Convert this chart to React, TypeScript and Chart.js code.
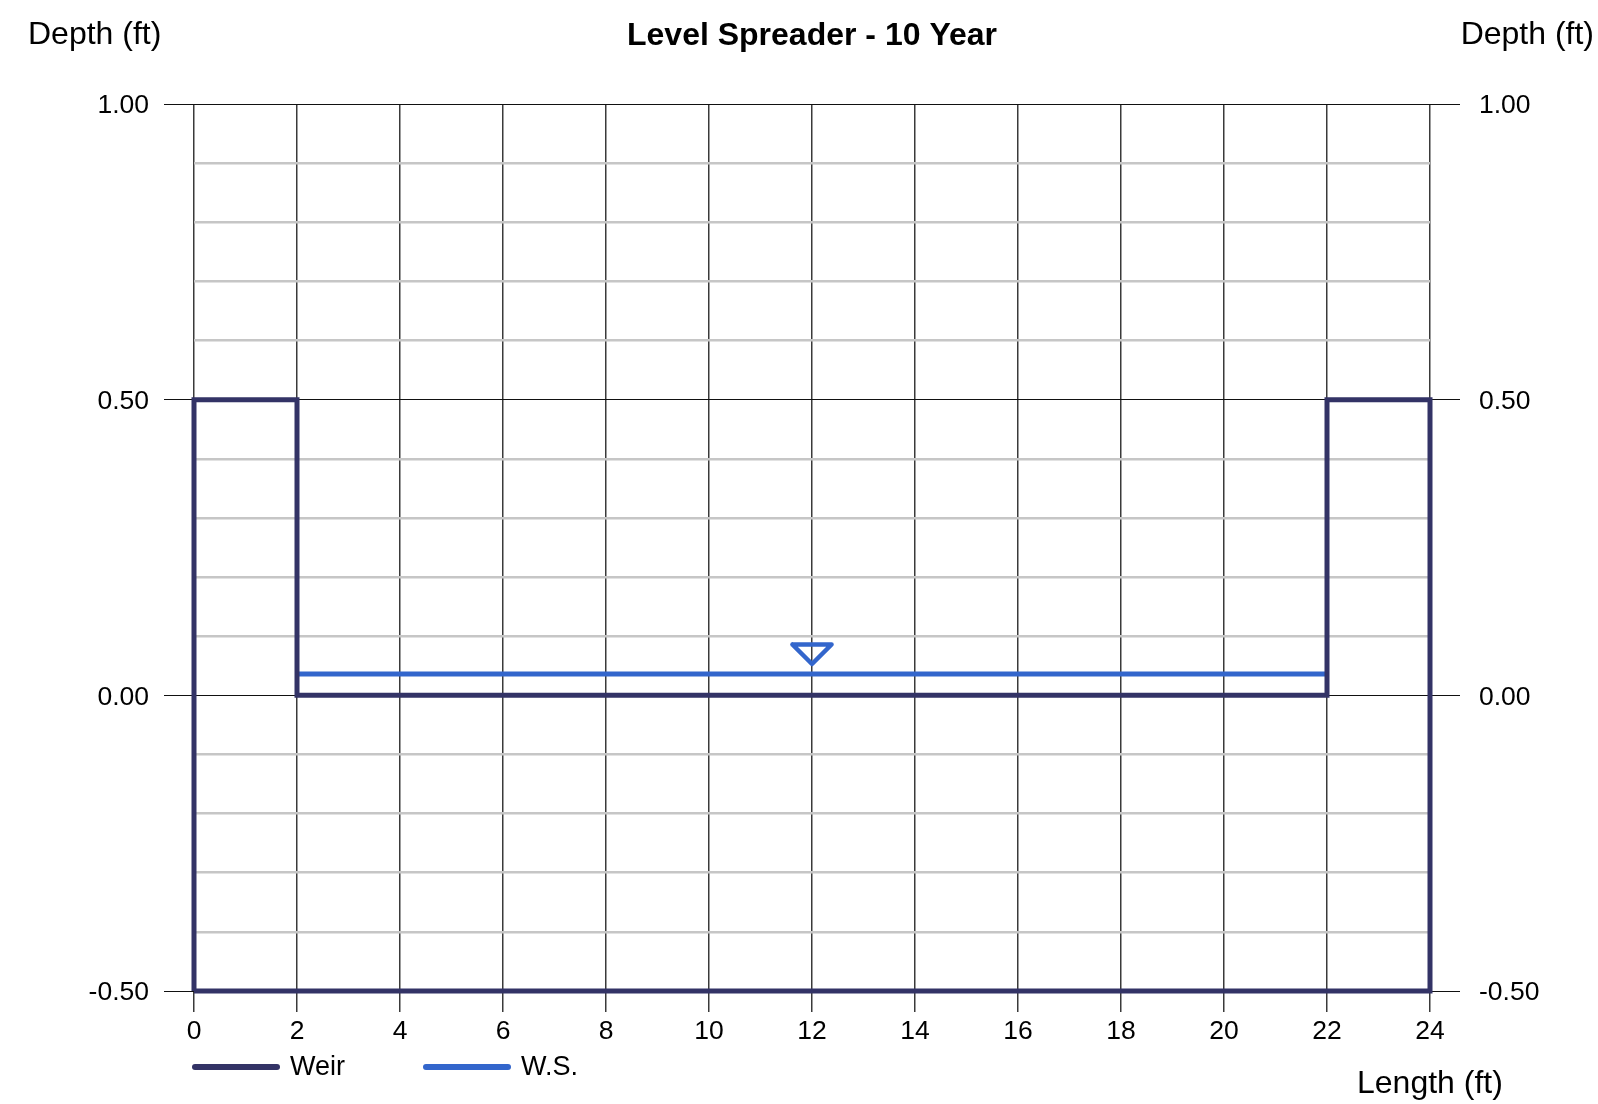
import React, { useEffect, useRef } from 'react';
import { Chart, registerables } from 'chart.js';

Chart.register(...registerables);

// ---- Data ----
const weirX = [0, 0, 2, 2, 22, 22, 24, 24, 0];
const weirY = [-0.5, 0.5, 0.5, 0, 0, 0.5, 0.5, -0.5, -0.5];
const wsX = [2, 22];
const wsY = [0.036, 0.036];
const markerX = [11.62, 12.38, 12, 11.62];
const markerY = [0.086, 0.086, 0.053, 0.086];

const yMin = -0.5;
const yMax = 1.0;
const yStep = 0.1;
const xMin = 0;
const xMax = 24;
const xStep = 2;

const titleText = 'Level Spreader - 10 Year';
const yTitle = 'Depth (ft)';
const xTitle = 'Length (ft)';
const legendLabels = ['Weir', 'W.S.'];

const WEIR_COLOR = '#333366';
const WS_COLOR = '#3366cc';
const FONT = "'Liberation Sans', Arial, sans-serif";

const W = 1598;
const H = 1104;

const isMajor = (v: number) => Math.abs(v * 2 - Math.round(v * 2)) < 1e-6;

const toPts = (xs: number[], ys: number[]) => xs.map((x, i) => ({ x, y: ys[i] }));

const textPlugin = {
  id: 'texts',
  afterDraw(chart: any) {
    const ctx = chart.ctx as CanvasRenderingContext2D;
    const area = chart.chartArea;
    ctx.save();
    ctx.fillStyle = '#000';
    ctx.textBaseline = 'alphabetic';
    // Title
    ctx.font = `bold 32px ${FONT}`;
    ctx.textAlign = 'center';
    ctx.fillText(titleText, (area.left + area.right) / 2, 45);
    // Y titles
    ctx.font = `32px ${FONT}`;
    ctx.textAlign = 'left';
    ctx.fillText(yTitle, 28, 44);
    ctx.textAlign = 'right';
    ctx.fillText(yTitle, 1594, 44);
    // X title
    ctx.textAlign = 'left';
    ctx.fillText(xTitle, 1357, 1093);
    // Legend
    const colors = [WEIR_COLOR, WS_COLOR];
    const starts = [area.left - 1, 424];
    ctx.lineCap = 'round';
    ctx.lineWidth = 6;
    ctx.font = `27px ${FONT}`;
    ctx.textBaseline = 'middle';
    legendLabels.forEach((lab, i) => {
      ctx.strokeStyle = colors[i];
      ctx.beginPath();
      ctx.moveTo(starts[i] + 2, 1067);
      ctx.lineTo(starts[i] + 84, 1067);
      ctx.stroke();
      ctx.fillText(lab, starts[i] + 97, 1068);
    });
    ctx.restore();
  },
};

export default function App() {
  const ref = useRef<HTMLCanvasElement | null>(null);

  useEffect(() => {
    document.body.style.margin = '0';
    const canvas = ref.current!;
    const yGrid = {
      color: (c: any) => (isMajor(c.tick.value) ? '#111' : '#c6c6c6'),
      lineWidth: (c: any) => (isMajor(c.tick.value) ? 1 : 2.5),
      tickColor: (c: any) => (isMajor(c.tick.value) ? '#111' : 'rgba(0,0,0,0)'),
      tickWidth: 1,
      tickLength: 30,
    };
    const yTicksLeft = {
      stepSize: yStep,
      autoSkip: false,
      color: '#000',
      font: { family: FONT, size: 26.5 },
      padding: 15,
      labelOffset: 2,
      callback: (v: any) => (isMajor(Number(v)) ? Number(v).toFixed(2) : ''),
    };
    const yTicksRight = { ...yTicksLeft, padding: 19 };
    const chart = new Chart(canvas, {
      type: 'line',
      data: {
        datasets: [
          {
            label: 'Weir',
            data: toPts(weirX, weirY),
            borderColor: WEIR_COLOR,
            borderWidth: 5,
            pointRadius: 0,
            fill: false,
            tension: 0,
            clip: false as any,
            borderJoinStyle: 'miter',
          },
          {
            label: 'W.S.',
            data: toPts(wsX, wsY),
            borderColor: WS_COLOR,
            borderWidth: 5,
            pointRadius: 0,
            fill: false,
            tension: 0,
          },
          {
            label: 'marker',
            data: toPts(markerX, markerY),
            borderColor: WS_COLOR,
            borderWidth: 4.5,
            pointRadius: 0,
            fill: false,
            tension: 0,
            borderJoinStyle: 'round',
            borderCapStyle: 'round',
          },
        ],
      },
      options: {
        responsive: false,
        animation: false,
        devicePixelRatio: 1,
        layout: { padding: { top: 104, left: 0, right: 0, bottom: 0 } },
        plugins: {
          legend: { display: false },
          tooltip: { enabled: false },
          title: { display: false },
        },
        scales: {
          x: {
            type: 'linear',
            min: xMin,
            max: xMax,
            ticks: {
              stepSize: xStep,
              color: '#000',
              font: { family: FONT, size: 26.5 },
              padding: 4,
              maxRotation: 0,
              autoSkip: false,
            },
            grid: {
              color: '#3a3a3a',
              lineWidth: 1.5,
              tickLength: 21,
              tickColor: '#3a3a3a',
            },
            border: { display: false },
            afterFit: (s: any) => {
              s.height = 113;
            },
          },
          y: {
            type: 'linear',
            position: 'left',
            min: yMin,
            max: yMax,
            ticks: yTicksLeft as any,
            grid: yGrid as any,
            border: { display: false },
            afterFit: (s: any) => {
              s.width = 194;
            },
          },
          y2: {
            type: 'linear',
            position: 'right',
            min: yMin,
            max: yMax,
            ticks: yTicksRight as any,
            grid: { ...yGrid, drawOnChartArea: false } as any,
            border: { display: false },
            afterFit: (s: any) => {
              s.width = 168;
            },
          },
        },
      } as any,
      plugins: [textPlugin],
    });
    return () => chart.destroy();
  }, []);

  return <canvas ref={ref} width={W} height={H} style={{ display: 'block', width: W, height: H }} />;
}
